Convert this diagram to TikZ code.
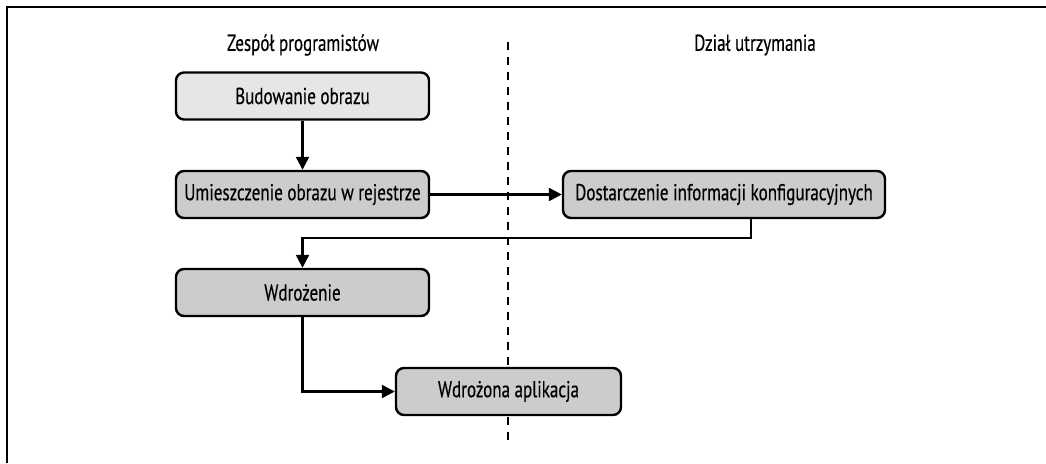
\documentclass[tikz,border=0pt]{standalone}
\usepackage{fontspec}
\setmainfont{PT Sans}[FakeStretch=0.74,FakeBold=0.4]
\usetikzlibrary{arrows.meta}
\definecolor{boxlight}{HTML}{E6E6E6}
\definecolor{boxdark}{HTML}{CCCCCC}
\begin{document}
\begin{tikzpicture}[x=1pt,y=-1pt,
  box/.style={draw, line width=2.4pt, rounded corners=8pt, minimum height=47pt, inner sep=0pt, font=\fontsize{23}{27}\selectfont},
  light/.style={fill=boxlight},
  dark/.style={fill=boxdark},
  head/.style={inner sep=0pt, font=\fontsize{23}{27}\selectfont},
  conn/.style={line width=2.4pt, -{Triangle[length=13pt,width=13pt]}},
  lane/.style={line width=2.4pt, dash pattern=on 8pt off 7pt}]
\useasboundingbox (0,0) rectangle (1046,463);
\draw[line width=2.8pt] (7,463) -- (7,7) -- (1046,7);
\node[head] (h1) at (303,45) {Zespół programistów};
\node[head] (h2) at (755,45) {Dział utrzymania};
\coordinate (lt) at (508,42);
\coordinate (lb) at (508,445);
\draw[lane] (lt) -- (lb);
\node[box, light, minimum width=253pt] (b1) at (302.5,96) {Budowanie obrazu};
\node[box, dark, minimum width=253pt] (b2) at (302.5,194.5) {Umieszczenie obrazu w rejestrze};
\node[box, dark, minimum width=322pt] (b3) at (724,194.5) {Dostarczenie informacji konfiguracyjnych};
\node[box, dark, minimum width=253pt] (b4) at (302.5,292.5) {Wdrożenie};
\node[box, dark, minimum width=225pt] (b5) at (508.5,391.5) {Wdrożona aplikacja};
\coordinate (k) at (0,238);
\draw[conn] (b1) -- (b2);
\draw[conn] (b2) -- (b3);
\draw[conn] ([xshift=27pt]b3.south) -- ([xshift=27pt]b3.south |- k) -- (b4.north |- k) -- (b4.north);
\draw[conn] (b4.south) |- (b5.west);
\end{tikzpicture}
\end{document}
